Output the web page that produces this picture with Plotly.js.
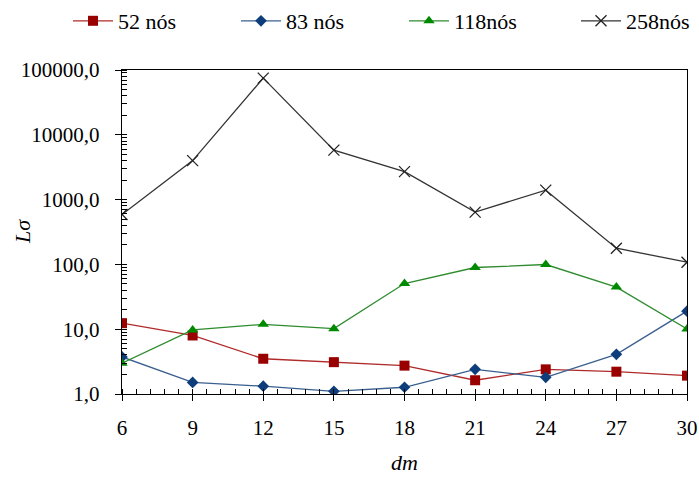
<!DOCTYPE html>
<html><head><meta charset="utf-8">
<script src="https://cdn.plot.ly/plotly-3.0.1.min.js"></script>
<style>body{margin:0;background:#fff}#c{width:699px;height:478px}</style>
</head><body><div id="c"></div>
<script>
const dm = [6, 9, 12, 15, 18, 21, 24, 27, 30];
const n52 = [12.4, 8.0, 3.5, 3.1, 2.74, 1.63, 2.4, 2.21, 1.92];
const n83 = [3.73, 1.51, 1.32, 1.1, 1.27, 2.4, 1.81, 4.1, 19];
const n118 = [2.98, 9.75, 11.9, 10.2, 50.7, 89.5, 99.6, 44.6, 10.1];
const n258 = [590, 4000, 75000, 5800, 2700, 640, 1400, 178, 108];
const names = ['52 nós', '83 nós', '118nós', '258nós'];
const yTickVals = [1, 10, 100, 1000, 10000, 100000];
const yTickText = ['1,0', '10,0', '100,0', '1000,0', '10000,0', '100000,0'];
const xTickVals = [6, 9, 12, 15, 18, 21, 24, 27, 30];

const font = 'Times New Roman, Liberation Serif, DejaVu Serif, serif';
const traces = [
  {x: dm, y: n52, name: names[0], mode: 'lines+markers', legend: 'legend',
   line: {color: '#b02a2a', width: 1.3}, marker: {symbol: 'square', size: 10, color: '#990000'}},
  {x: dm, y: n83, name: names[1], mode: 'lines+markers', legend: 'legend2',
   line: {color: '#3a5f8f', width: 1.3}, marker: {symbol: 'diamond', size: 9, color: '#0d3d7a'}},
  {x: dm, y: n118, name: names[2], mode: 'lines+markers', legend: 'legend3',
   line: {color: '#2e8b2e', width: 1.3}, marker: {symbol: 'triangle-up', size: 10, color: '#008a00'}},
  {x: dm, y: n258, name: names[3], mode: 'lines+markers', legend: 'legend4',
   line: {color: '#333333', width: 1.3}, marker: {symbol: 'x-thin', size: 11, color: '#222222', line: {width: 1.3, color: '#222222'}}}
];
function leg(px) {
  return {orientation: 'h', x: px / 699, xref: 'container', xanchor: 'left', y: 1.0, yref: 'container', yanchor: 'top',
          font: {family: font, size: 22}, itemwidth: 40, bgcolor: 'rgba(0,0,0,0)'};
}
const layout = {
  width: 699, height: 478,
  margin: {l: 122, r: 12, t: 70, b: 84},
  paper_bgcolor: '#fff', plot_bgcolor: '#fff',
  font: {family: font, size: 22, color: '#000'},
  showlegend: true,
  legend: leg(68), legend2: leg(236), legend3: leg(404), legend4: leg(576),
  xaxis: {range: [6, 30], tickvals: xTickVals, showline: true, linecolor: '#000', linewidth: 1.3, mirror: true,
          ticks: 'outside', ticklen: 6, tickcolor: '#000', showgrid: false, zeroline: false,
          tickfont: {family: font, size: 21}, ticklabelstandoff: 8,
          minor: {dtick: 0.6, ticks: 'inside', ticklen: 5, tickcolor: '#000', showgrid: false},
          title: {text: '<i>dm</i>', font: {family: font, size: 22}, standoff: 16}},
  yaxis: {type: 'log', range: [0, 5], tickvals: yTickVals, ticktext: yTickText, showline: true, linecolor: '#000',
          linewidth: 1.3, mirror: true, ticks: 'outside', ticklen: 6, tickcolor: '#000', showgrid: false, zeroline: false,
          tickfont: {family: font, size: 21}, ticklabelstandoff: 11,
          minor: {dtick: 'D1', ticks: 'inside', ticklen: 5, tickcolor: '#000', showgrid: false}},
  annotations: [{text: '<i>Lσ</i>', xref: 'paper', yref: 'paper', x: (22 - 122) / 565, y: 0.5, xanchor: 'center',
                 yanchor: 'middle', textangle: -90, showarrow: false, font: {family: font, size: 22}}]
};
Plotly.newPlot('c', traces, layout, {displayModeBar: false, staticPlot: true});
</script></body></html>
